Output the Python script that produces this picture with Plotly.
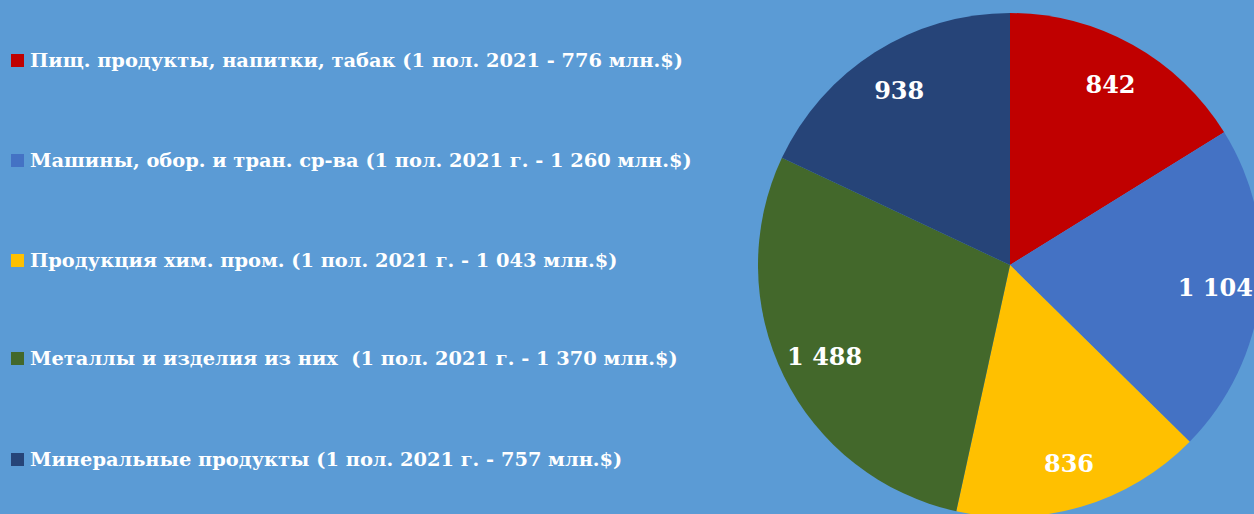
import plotly.graph_objects as go

labels = ["Пищ. продукты, напитки, табак (1 пол. 2021 - 776 млн.$)",
          "Машины, обор. и тран. ср-ва (1 пол. 2021 г. - 1 260 млн.$)",
          "Продукция хим. пром. (1 пол. 2021 г. - 1 043 млн.$)",
          "Металлы и изделия из них  (1 пол. 2021 г. - 1 370 млн.$)",
          "Минеральные продукты (1 пол. 2021 г. - 757 млн.$)"]
values = [842, 1104, 836, 1488, 938]
value_text = ["842", "1 104", "836", "1 488", "938"]
colors = ["#C00000", "#4472C4", "#FFC000", "#43682B", "#264478"]

BG = "#5B9BD5"
FONT = "DejaVu Serif"
W, H = 1264, 520
dom = dict(x=[758 / W, 1262 / W], y=[(H - 517) / H, (H - 13) / H])

fig = go.Figure()
fig.add_trace(go.Pie(
    labels=labels, values=values, textinfo="none",
    sort=False, direction="clockwise", rotation=0,
    marker=dict(colors=colors, line=dict(width=0)),
    domain=dom, showlegend=False, hoverinfo="skip",
))
# transparent ring overlay to place value labels near the rim
fig.add_trace(go.Pie(
    labels=labels, values=values, text=value_text, hole=0.64,
    textinfo="text", textposition="inside", insidetextorientation="horizontal",
    sort=False, direction="clockwise", rotation=0,
    marker=dict(colors=["rgba(0,0,0,0)"] * 5, line=dict(width=0)),
    textfont=dict(family=FONT, size=24, color="white", weight="bold"),
    domain=dom, showlegend=False, hoverinfo="skip",
))

ys = [60, 160, 260, 358, 459]
for lab, col, y in zip(labels, colors, ys):
    fig.add_shape(type="rect", xref="paper", yref="paper",
                  x0=11 / W, x1=24 / W, y0=1 - (y + 7) / H, y1=1 - (y - 6) / H,
                  fillcolor=col, line=dict(width=0))
    fig.add_annotation(xref="paper", yref="paper", x=28 / W, y=1 - y / H,
                       text="<b>" + lab + "</b>", showarrow=False,
                       xanchor="left", yanchor="middle",
                       font=dict(family=FONT, size=19.4, color="white"))

fig.update_layout(width=W, height=H, margin=dict(l=0, r=0, t=0, b=0),
                  paper_bgcolor=BG, plot_bgcolor=BG)
fig.write_html("out.html", config={"displayModeBar": False}, post_script=(
    "document.body.style.margin='0';"
    "document.body.style.overflow='hidden';"
    "document.documentElement.style.overflow='hidden';"
    f"document.body.style.background='{BG}';"))
